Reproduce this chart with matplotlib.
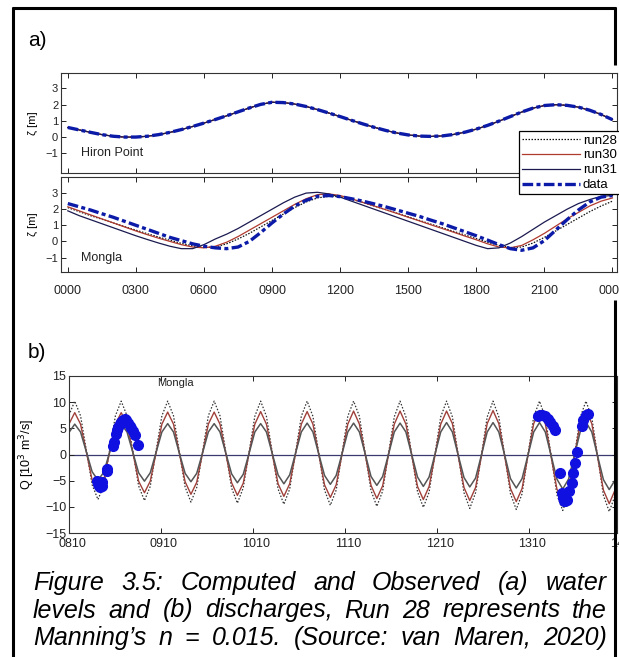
import matplotlib
matplotlib.use("Agg")
import matplotlib.pyplot as plt
from matplotlib.lines import Line2D
from matplotlib.transforms import blended_transform_factory, ScaledTranslation

plt.rcParams['font.family'] = ['Liberation Sans', 'DejaVu Sans']

W, H = 619, 657

# ---- panel a : water levels, hours 0..24 every half hour
hours_a = [0.5 * i for i in range(49)]
hour_ticks = [0, 3, 6, 9, 12, 15, 18, 21, 24]
hour_labels = ['0000', '0300', '0600', '0900', '1200', '1500', '1800', '2100', '0000']

hiron = [0.60, 0.45, 0.30, 0.16, 0.06, 0.01, 0.01, 0.06, 0.16, 0.30, 0.47, 0.66,
         0.87, 1.09, 1.32, 1.56, 1.80, 2.02, 2.15, 2.13, 2.04, 1.89, 1.70, 1.49,
         1.27, 1.04, 0.82, 0.61, 0.42, 0.26, 0.14, 0.07, 0.05, 0.08, 0.17, 0.31,
         0.50, 0.73, 0.99, 1.27, 1.55, 1.79, 1.95, 2.00, 1.96, 1.85, 1.66, 1.40, 1.08]

mongla_run28 = [2.10, 1.85, 1.60, 1.38, 1.15, 0.92, 0.70, 0.48, 0.27, 0.07, -0.12, -0.28,
                -0.38, -0.35, -0.15, 0.15, 0.50, 0.90, 1.30, 1.70, 2.10, 2.45, 2.70, 2.80,
                2.78, 2.62, 2.42, 2.20, 1.98, 1.75, 1.53, 1.30, 1.07, 0.85, 0.62, 0.40,
                0.17, -0.05, -0.25, -0.38, -0.35, -0.10, 0.25, 0.65, 1.05, 1.45, 1.85, 2.20, 2.50]
mongla_run30 = [2.15, 1.90, 1.65, 1.40, 1.15, 0.90, 0.65, 0.42, 0.20, 0.00, -0.20, -0.35,
                -0.40, -0.30, -0.05, 0.30, 0.70, 1.10, 1.50, 1.90, 2.30, 2.65, 2.90, 2.95,
                2.85, 2.65, 2.42, 2.20, 1.97, 1.74, 1.50, 1.27, 1.03, 0.80, 0.57, 0.33,
                0.10, -0.15, -0.35, -0.40, -0.25, 0.10, 0.50, 0.95, 1.40, 1.80, 2.20, 2.50, 2.70]
mongla_run31 = [1.90, 1.60, 1.35, 1.10, 0.85, 0.60, 0.35, 0.12, -0.10, -0.30, -0.45, -0.45,
                -0.20, 0.15, 0.45, 0.80, 1.20, 1.60, 2.00, 2.40, 2.75, 3.00, 3.05, 2.95,
                2.75, 2.50, 2.25, 2.00, 1.75, 1.50, 1.25, 1.00, 0.75, 0.50, 0.25, 0.00,
                -0.25, -0.45, -0.40, -0.10, 0.30, 0.75, 1.20, 1.60, 2.00, 2.35, 2.60, 2.80, 2.85]
mongla_data = [2.35, 2.15, 1.95, 1.72, 1.50, 1.25, 1.00, 0.75, 0.50, 0.25, 0.05, -0.15,
               -0.30, -0.40, -0.45, -0.35, 0.00, 0.55, 1.15, 1.70, 2.20, 2.55, 2.80, 2.85,
               2.78, 2.65, 2.50, 2.33, 2.15, 1.95, 1.75, 1.55, 1.32, 1.10, 0.85, 0.60,
               0.35, 0.08, -0.20, -0.45, -0.55, -0.40, 0.05, 0.70, 1.35, 1.95, 2.45, 2.75, 2.85]

# ---- panel b : discharge, hours after 08/10 00:00
hours_b = [round(-0.02 + 1.516 * i, 2) for i in range(96)]
day_ticks = [0, 24, 48, 72, 96, 120]
day_labels = ['0810', '0910', '1010', '1110', '1210', '1310']

q_run28 = [7.5, 10.2, 7.4, 0.8, -5.8, -8.6, -5.9, 0.8, 7.4, 10.2, 7.4, 0.7,
           -6.0, -8.8, -6.1, 0.7, 7.4, 10.2, 7.4, 0.6, -6.2, -9.1, -6.3, 0.5,
           7.4, 10.2, 7.4, 0.5, -6.4, -9.3, -6.4, 0.4, 7.3, 10.2, 7.3, 0.4,
           -6.6, -9.5, -6.6, 0.3, 7.3, 10.2, 7.3, 0.3, -6.8, -9.7, -6.8, 0.2,
           7.3, 10.2, 7.3, 0.2, -6.9, -9.9, -7.0, 0.1, 7.2, 10.2, 7.2, 0.1,
           -7.1, -10.1, -7.2, 0.0, 7.2, 10.2, 7.2, 0.0, -7.3, -10.3, -7.3, -0.1,
           7.2, 10.2, 7.2, -0.1, -7.5, -10.5, -7.5, -0.2, 7.2, 10.2, 7.1, -0.2,
           -7.7, -10.7, -7.7, -0.3, 7.1, 10.2, 7.1, -0.3, -7.8, -10.9, -7.9, -0.4]
q_run30 = [5.8, 8.0, 5.8, 0.5, -4.9, -7.1, -4.9, 0.4, 5.8, 8.0, 5.8, 0.4,
           -5.1, -7.3, -5.1, 0.3, 5.8, 8.1, 5.8, 0.3, -5.2, -7.6, -5.3, 0.3,
           5.8, 8.1, 5.8, 0.2, -5.4, -7.8, -5.5, 0.2, 5.8, 8.2, 5.8, 0.1,
           -5.6, -8.0, -5.6, 0.1, 5.8, 8.2, 5.8, 0.1, -5.8, -8.2, -5.8, 0.0,
           5.8, 8.3, 5.8, 0.0, -5.9, -8.4, -6.0, -0.1, 5.8, 8.3, 5.8, -0.1,
           -6.1, -8.6, -6.1, -0.2, 5.8, 8.3, 5.9, -0.2, -6.3, -8.8, -6.3, -0.3,
           5.9, 8.4, 5.9, -0.3, -6.5, -9.0, -6.5, -0.3, 5.9, 8.4, 5.9, -0.4,
           -6.6, -9.2, -6.7, -0.4, 5.9, 8.5, 5.9, -0.5, -6.8, -9.4, -6.8, -0.5]
q_run31 = [4.2, 5.8, 4.3, 0.5, -3.3, -4.9, -3.4, 0.4, 4.3, 5.8, 4.3, 0.4,
           -3.5, -5.1, -3.5, 0.4, 4.3, 5.9, 4.3, 0.3, -3.6, -5.2, -3.6, 0.3,
           4.3, 5.9, 4.3, 0.3, -3.7, -5.4, -3.8, 0.2, 4.3, 5.9, 4.3, 0.2,
           -3.9, -5.6, -3.9, 0.2, 4.3, 6.0, 4.3, 0.1, -4.0, -5.7, -4.0, 0.1,
           4.3, 6.0, 4.3, 0.1, -4.2, -5.9, -4.2, 0.0, 4.3, 6.0, 4.3, 0.0,
           -4.3, -6.1, -4.3, 0.0, 4.3, 6.1, 4.3, -0.1, -4.4, -6.2, -4.5, -0.1,
           4.3, 6.1, 4.3, -0.1, -4.6, -6.4, -4.6, -0.2, 4.3, 6.1, 4.3, -0.2,
           -4.7, -6.6, -4.7, -0.2, 4.3, 6.2, 4.3, -0.3, -4.8, -6.7, -4.9, -0.3]

obs_hours = [7.3, 7.6, 7.9, 8.2, 8.5, 8.7, 9.8, 10.0, 11.5, 11.7, 12.2, 12.5,
             12.8, 13.2, 13.6, 14.0, 14.5, 15.0, 15.5, 15.9, 16.3, 16.8, 17.3, 17.9,
             122.3, 123.0, 123.5, 124.2, 125.0, 125.6, 126.3, 126.8, 128.1, 128.6,
             128.9, 129.2, 129.5, 129.9, 130.4, 131.2, 131.6, 132.0, 132.5, 133.8,
             134.2, 134.9, 135.4]
obs_q = [-5.0, -5.6, -6.1, -6.3, -6.0, -5.3, -3.2, -2.8, 1.6, 2.4, 4.0, 4.7,
         5.3, 5.8, 6.2, 6.5, 6.7, 6.5, 6.0, 5.5, 5.0, 4.4, 3.8, 1.8,
         7.3, 7.6, 7.6, 7.4, 6.8, 6.2, 5.5, 4.6, -3.6, -7.3,
         -8.3, -8.8, -8.8, -8.6, -7.0, -5.4, -3.6, -1.7, 0.4, 5.5,
         6.5, 7.5, 7.7]

caption = ["Figure 3.5: Computed and Observed (a) water",
           "levels and (b) discharges, Run 28 represents the",
           "Manning\u2019s n = 0.015. (Source: van Maren, 2020)"]


def rect(x0, y0, x1, y1):
    return [x0 / W, 1 - y1 / H, (x1 - x0) / W, (y1 - y0) / H]


def style(ax, fs):
    ax.tick_params(direction='in', top=True, right=True, length=3.5, width=0.7,
                   labelsize=fs, pad=2, colors='#222222')
    for s in ax.spines.values():
        s.set_linewidth(0.8)
        s.set_color('#333333')


fig = plt.figure(figsize=(W / 100, H / 100), dpi=100)

ax1 = fig.add_axes(rect(61, 73, 617, 173))
ax2 = fig.add_axes(rect(61, 177, 617, 272))
ax3 = fig.add_axes(rect(69, 376, 617, 533))

dash_data = dict(color='#0b1ba8', lw=2.4, dashes=(3.2, 1.0, 1.2, 1.0))
k28 = dict(color='#111111', lw=0.9, ls=(0, (1.2, 1.2)))
k30 = dict(color='#b03a2e', lw=0.9)
k31 = dict(color='#1a1a50', lw=0.9)

# Hiron Point
ax1.plot(hours_a, hiron, **k28)
ax1.plot(hours_a, hiron, **k30)
ax1.plot(hours_a, hiron, **k31)
ax1.plot(hours_a, hiron, **dash_data)
ax1.text(0.6, -1.0, 'Hiron Point', fontsize=9, va='center', color='#222222')

# Mongla
ax2.plot(hours_a, mongla_run28, **k28)
ax2.plot(hours_a, mongla_run30, **k30)
ax2.plot(hours_a, mongla_run31, **k31)
ax2.plot(hours_a, mongla_data, **dash_data)
ax2.text(0.6, -1.0, 'Mongla', fontsize=9, va='center', color='#222222')

for ax, yl in [(ax1, (-2.2, 3.95)), (ax2, (-1.9, 4.0))]:
    style(ax, 8)
    ax.set_xlim(-0.3, 24.2)
    ax.set_ylim(*yl)
    ax.set_yticks([-1, 0, 1, 2, 3])
    ax.set_xticks(hour_ticks)
    ax.set_ylabel('\u03b6 [m]', fontsize=8)
    ax.yaxis.set_label_coords(-0.042, 0.5)
ax1.tick_params(labelbottom=False)
ax2.set_xticklabels(hour_labels)
ax2.tick_params(axis='x', pad=9, labelsize=9)

handles = [Line2D([], [], **k28), Line2D([], [], **k30),
           Line2D([], [], **k31), Line2D([], [], **dash_data)]
leg = fig.legend(handles, ['run28', 'run30', 'run31', 'data'], loc='upper right',
                 bbox_to_anchor=(620 / W, 1 - 131 / H), fontsize=9.5, frameon=True,
                 fancybox=False, edgecolor='black', framealpha=1, handlelength=4.4,
                 handletextpad=0.2, labelspacing=0.2, borderpad=0.25, borderaxespad=0)
leg.get_frame().set_linewidth(0.9)

# discharge panel
ax3.axhline(0, color='#3a3a70', lw=0.9, zorder=1)
ax3.plot(hours_b, q_run28, color='#333333', lw=0.9, ls=(0, (1.2, 1.4)))
ax3.plot(hours_b, q_run30, color='#a0403a', lw=1.0)
ax3.plot(hours_b, q_run31, color='#555555', lw=1.1)
ax3.plot(obs_hours, obs_q, 'o', color='#1010e0', ms=7, mec='#1010e0', zorder=5)
style(ax3, 9)
ax3.set_xlim(0, 143)
ax3.set_ylim(-15, 15)
ax3.set_yticks([-15, -10, -5, 0, 5, 10, 15])
ax3.set_xticks(day_ticks)
ax3.set_xticklabels(day_labels)
ax3.tick_params(axis='x', pad=3.5)
shift = ScaledTranslation(3 / 100, 0, fig.dpi_scale_trans)
for lab in ax3.get_xticklabels():
    lab.set_transform(lab.get_transform() + shift)
tr = blended_transform_factory(ax3.transData, ax3.transAxes)
ax3.text(144, -0.035, '1410', transform=tr + shift, fontsize=9, ha='center', va='top',
         color='#222222', clip_on=False)
ax3.text(23, 13.6, 'Mongla', fontsize=8, va='center', color='#222222')
ax3.set_ylabel('Q [10$^3$ m$^3$/s]', fontsize=9)
ax3.yaxis.set_label_coords(-0.058, 0.5)

# panel letters
fig.text(28 / W, 1 - 40 / H, 'a)', fontsize=15, va='center')
fig.text(28 / W, 1 - 353 / H, 'b)', fontsize=15, va='center')

# justified italic caption
renderer = fig.canvas.get_renderer()
for k, line in enumerate(caption):
    words = line.split(' ')
    y = 1 - (583 + 27.5 * k) / H
    texts = [fig.text(0, y, w, fontsize=18, style='italic', va='center') for w in words]
    widths = [t.get_window_extent(renderer).width for t in texts]
    gap = (574 - sum(widths)) / (len(words) - 1)
    x = 33
    for t, wd in zip(texts, widths):
        t.set_x(x / W)
        x += wd + gap

# black border of the figure box
fk = dict(color='black', lw=2.2, transform=fig.transFigure, solid_capstyle='butt')
fig.add_artist(Line2D([13 / W, 13 / W], [0, 1 - 7 / H], **fk))
fig.add_artist(Line2D([12 / W, 616 / W], [1 - 8 / H, 1 - 8 / H], **fk))
fig.add_artist(Line2D([614.5 / W] * 2, [1 - 7 / H, 1 - 65 / H], **fk))
fig.add_artist(Line2D([614.5 / W] * 2, [0, 1 - 300 / H], **fk))

fig.savefig('out.png', dpi=100)
